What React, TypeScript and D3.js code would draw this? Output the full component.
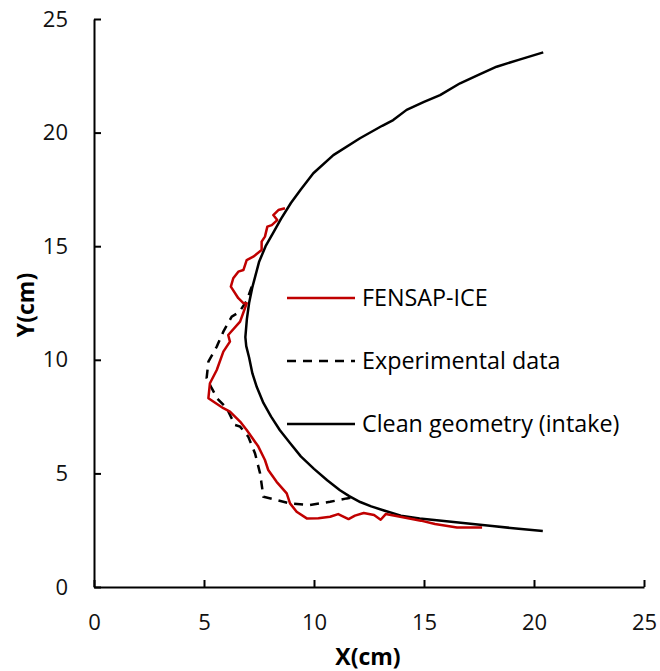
import React, { useEffect, useRef } from "react";
import * as d3 from "d3";

const cleanX = [20.4, 19.3, 18.1, 17.0, 15.8, 14.8, 13.95, 13.18, 12.6, 12.1, 11.6, 11.18, 10.6, 10.0, 9.4, 8.9, 8.45, 8.05, 7.7, 7.4, 7.2, 7.05, 6.92, 6.88, 6.95, 7.05, 7.2, 7.5, 7.8, 8.15, 8.5, 8.95, 9.4, 9.97, 10.88, 12.09, 13.1, 13.6, 14.21, 15.0, 15.73, 16.64, 17.5, 18.3, 19.3, 20.42];
const cleanY = [2.46, 2.56, 2.69, 2.8, 2.92, 3.02, 3.14, 3.37, 3.55, 3.74, 4.0, 4.26, 4.7, 5.2, 5.75, 6.35, 6.9, 7.5, 8.1, 8.8, 9.4, 10.1, 10.6, 11.0, 11.8, 12.5, 13.2, 14.3, 15.0, 15.6, 16.2, 16.9, 17.5, 18.21, 19.01, 19.75, 20.3, 20.55, 21.0, 21.35, 21.65, 22.17, 22.55, 22.9, 23.2, 23.53];

const fensapX = [8.68, 8.38, 8.15, 8.33, 8.08, 7.88, 7.77, 7.62, 7.62, 7.24, 6.94, 6.79, 6.56, 6.33, 6.22, 6.56, 6.79, 6.94, 6.86, 6.64, 6.1, 6.18, 5.88, 5.58, 5.27, 5.2, 5.88, 6.18, 6.64, 6.94, 7.47, 7.77, 7.92, 8.3, 8.76, 8.91, 9.21, 9.67, 10.2, 10.73, 11.1, 11.57, 11.86, 12.26, 12.73, 13.03, 13.26, 13.86, 14.86, 15.5, 16.5, 17.64];
const fensapY = [16.67, 16.59, 16.37, 16.15, 15.93, 15.86, 15.42, 15.2, 14.83, 14.54, 14.39, 13.95, 13.88, 13.59, 13.22, 12.71, 12.49, 12.49, 12.27, 11.68, 11.09, 10.8, 10.36, 9.55, 8.97, 8.31, 7.87, 7.72, 7.28, 6.91, 6.18, 5.59, 5.15, 4.63, 4.12, 3.68, 3.31, 3.02, 3.03, 3.09, 3.21, 2.99, 3.14, 3.26, 3.17, 2.96, 3.21, 3.1, 2.92, 2.77, 2.62, 2.62];

const expX = [7.17, 6.94, 6.6, 6.26, 5.88, 5.58, 5.2, 5.12, 5.35, 5.6, 6.03, 6.41, 6.64, 7.01, 7.32, 7.55, 7.7, 8.3, 8.91, 9.82, 10.73, 11.49, 11.85];
const expY = [13.22, 12.6, 12.1, 11.9, 11.24, 10.58, 9.92, 9.2, 8.75, 8.3, 7.87, 7.13, 7.06, 6.62, 5.88, 5.0, 3.97, 3.83, 3.68, 3.61, 3.75, 3.9, 3.95];

const xTicks = [0, 5, 10, 15, 20, 25];
const yTicks = [0, 5, 10, 15, 20, 25];
const legendLabels = ["FENSAP-ICE", "Experimental data", "Clean geometry (intake)"];

const W = 660;
const H = 671;
const FONT = "'Open Sans', sans-serif";

export default function App() {
  const ref = useRef<SVGSVGElement>(null);
  useEffect(() => {
    document.body.style.margin = "0";
    const svg = d3.select(ref.current);
    svg.selectAll("*").remove();
    const x = d3.scaleLinear().domain([0, 25]).range([94, 644]);
    const y = d3.scaleLinear().domain([0, 25]).range([587, 19]);

    const line = d3.line<[number, number]>().x((d) => x(d[0])).y((d) => y(d[1]));
    const zip = (a: number[], b: number[]) => a.map((v, i) => [v, b[i]] as [number, number]);

    const xa = svg.append("g").attr("transform", `translate(0,587)`)
      .call(d3.axisBottom(x).tickValues(xTicks).tickSizeInner(-7).tickSizeOuter(0).tickPadding(27));
    const ya = svg.append("g").attr("transform", `translate(94,0)`)
      .call(d3.axisLeft(y).tickValues(yTicks).tickSizeInner(-7).tickSizeOuter(0).tickPadding(26));
    [xa, ya].forEach((a) => {
      a.select(".domain").attr("stroke", "#000").attr("stroke-width", 2);
      a.selectAll(".tick line").attr("stroke", "#000").attr("stroke-width", 2);
      a.selectAll(".tick text").attr("font-family", FONT).attr("font-size", 22).attr("fill", "#111");
    });

    svg.append("path").attr("d", line(zip(cleanX, cleanY)))
      .attr("fill", "none").attr("stroke", "#000").attr("stroke-width", 2.5).attr("stroke-linejoin", "round");
    svg.append("path").attr("d", line(zip(expX, expY)))
      .attr("fill", "none").attr("stroke", "#000").attr("stroke-width", 2.5).attr("stroke-dasharray", "9,7");
    svg.append("path").attr("d", line(zip(fensapX, fensapY)))
      .attr("fill", "none").attr("stroke", "#C00000").attr("stroke-width", 2.5).attr("stroke-linejoin", "round");

    const legY = [298, 361, 424];
    const styles = [
      { c: "#C00000", d: null },
      { c: "#000", d: "9,7" },
      { c: "#000", d: null },
    ];
    legendLabels.forEach((lab, i) => {
      const l = svg.append("line").attr("x1", 287).attr("x2", 355).attr("y1", legY[i]).attr("y2", legY[i])
        .attr("stroke", styles[i].c).attr("stroke-width", 2.5);
      if (styles[i].d) l.attr("stroke-dasharray", styles[i].d as string);
      svg.append("text").attr("x", 362).attr("y", legY[i]).attr("dy", "0.36em")
        .attr("font-family", FONT).attr("font-size", 23.3).attr("fill", "#000").text(lab);
    });

    svg.append("text").attr("x", 368).attr("y", 665).attr("text-anchor", "middle")
      .attr("font-family", FONT).attr("font-size", 23).attr("font-weight", "bold").text("X(cm)");
    svg.append("text").attr("transform", `translate(34,305) rotate(-90)`).attr("text-anchor", "middle")
      .attr("font-family", FONT).attr("font-size", 23).attr("font-weight", "bold").text("Y(cm)");
  }, []);
  return <svg ref={ref} width={W} height={H} style={{ display: "block" }} />;
}
